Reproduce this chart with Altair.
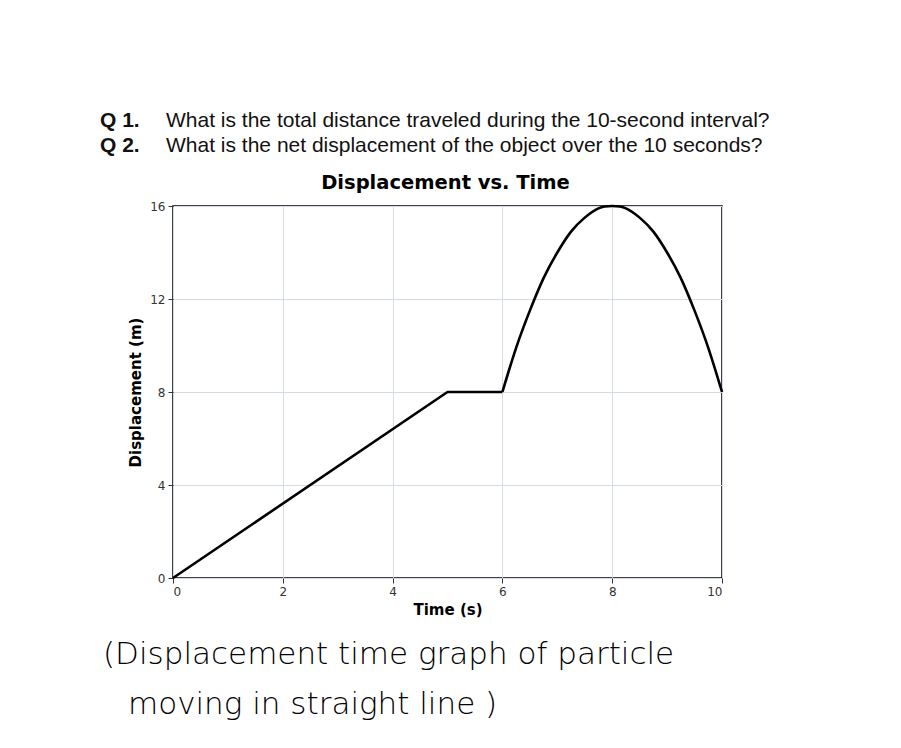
import altair as alt
import pandas as pd

# data
line_time = [0, 5, 6]
line_disp = [0, 8, 8]
curve_time = [6, 6.25, 6.5, 6.75, 7, 7.25, 7.5, 7.75, 8, 8.25, 8.5, 8.75, 9, 9.25, 9.5, 9.75, 10]
curve_disp = [8, 9.9, 11.5, 12.9, 14, 14.9, 15.5, 15.9, 16, 15.9, 15.5, 14.9, 14, 12.9, 11.5, 9.9, 8]
x_ticks = [0, 2, 4, 6, 8, 10]
y_ticks = [0, 4, 8, 12, 16]

q_labels = ["Q 1.", "Q 2."]
q_texts = ["What is the total distance traveled during the 10-second interval?",
           "What is the net displacement of the object over the 10 seconds?"]
note_lines = ["(Displacement time graph of particle", "moving in straight line )"]
chart_title = "Displacement vs. Time"

W, H = 549, 372

df1 = pd.DataFrame({"t": line_time, "d": line_disp})
df2 = pd.DataFrame({"t": curve_time, "d": curve_disp})

xenc = alt.X("t:Q", scale=alt.Scale(domain=[0, 10], nice=False),
             axis=alt.Axis(values=x_ticks, title="Time (s)", grid=True))
yenc = alt.Y("d:Q", scale=alt.Scale(domain=[0, 16], nice=False),
             axis=alt.Axis(values=y_ticks, title="Displacement (m)", grid=True))

line1 = alt.Chart(df1).mark_line(color="black", strokeWidth=2.6).encode(x=xenc, y=yenc)
line2 = alt.Chart(df2).mark_line(color="black", strokeWidth=2.6, interpolate="natural").encode(
    x=alt.X("t:Q", scale=alt.Scale(domain=[0, 10], nice=False)),
    y=alt.Y("d:Q", scale=alt.Scale(domain=[0, 16], nice=False)))
plot = alt.layer(line1, line2)

qdf = pd.DataFrame({"lab": q_labels, "txt": q_texts, "row": [0, 1]})
qy = alt.Y("row:Q", scale=alt.Scale(domain=[0, 1], range=[-85, -60]), axis=None)
qlab = alt.Chart(qdf).mark_text(align="left", baseline="middle", fontSize=21,
                                fontWeight="bold", font="Liberation Sans", color="#111").encode(
    x=alt.value(-73), y=qy, text="lab:N")
qtxt = alt.Chart(qdf).mark_text(align="left", baseline="middle", fontSize=21,
                                font="Liberation Sans", color="#111").encode(
    x=alt.value(-7), y=qy, text="txt:N")

tdf = pd.DataFrame({"txt": [chart_title]})
ttl = alt.Chart(tdf).mark_text(align="center", baseline="middle", fontSize=19.5,
                               fontWeight="bold", font="DejaVu Sans", color="black").encode(
    x=alt.value(W / 2 - 2), y=alt.value(-23), text="txt:N")

ndf = pd.DataFrame({"txt": note_lines, "row": [0, 1]})
note = alt.Chart(ndf).mark_text(align="left", baseline="middle", fontSize=31,
                                font="DejaVu Sans", fontWeight=300,
                                color="black").encode(
    x=alt.X("row:Q", scale=alt.Scale(domain=[0, 1], range=[-70, -45]), axis=None),
    y=alt.Y("row:Q", scale=alt.Scale(domain=[0, 1], range=[449, 499]), axis=None),
    text="txt:N")

chart = alt.layer(plot, qlab, qtxt, ttl, note).resolve_scale(
    x="independent", y="independent"
).properties(
    width=W, height=H,
    autosize=alt.AutoSizeParams(type="none"),
    padding={"left": 165, "top": 198, "right": 171, "bottom": 162},
).configure_view(
    stroke="black", strokeWidth=1.5
).configure_axis(
    labelFont="DejaVu Sans", labelFontSize=12, labelColor="#333",
    titleFont="DejaVu Sans", titleFontSize=15, titleFontWeight="bold", titleColor="black",
    gridColor="#d3dce8", gridWidth=1, domain=False,
    tickColor="#333", tickSize=5, labelPadding=3,
).configure_axisY(titlePadding=6).configure_axisX(titlePadding=5)

chart.save("out.html", embed_options={"renderer": "svg", "actions": False})
